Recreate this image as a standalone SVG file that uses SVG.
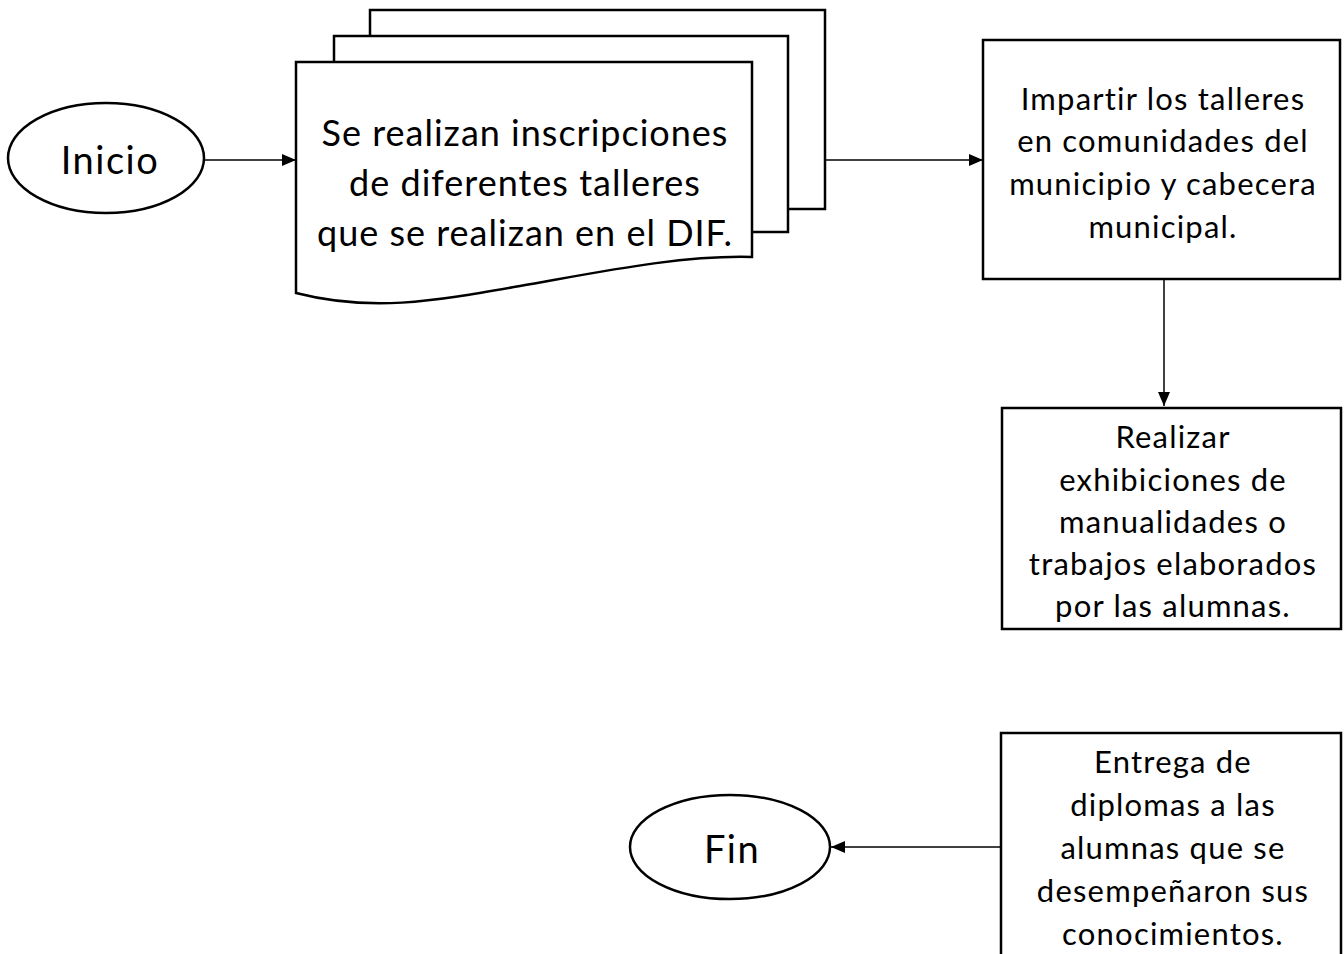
<svg xmlns="http://www.w3.org/2000/svg" width="1344" height="954" viewBox="0 0 1344 954">
<style>
.shape{fill:#fff;stroke:#000;stroke-width:2.5}
.sheet{fill:none;stroke:#000;stroke-width:2.5}
.conn{fill:none;stroke:#000;stroke-width:1.5}
.t{font-family:Lato,"Open Sans","Liberation Sans",sans-serif;fill:#000;text-anchor:middle;dominant-baseline:central}
.big{font-size:36px;letter-spacing:1px}
.end{font-size:38px;letter-spacing:1.5px}
.mid{font-size:31px;letter-spacing:1.2px}
</style>
<defs>
<marker id="arr" viewBox="0 0 14 12" refX="14" refY="6" markerWidth="14" markerHeight="12" markerUnits="userSpaceOnUse" orient="auto">
<path d="M0,0 L14,6 L0,12 z" fill="#000"/>
</marker>
</defs>
<g id="connectors">
<line class="conn" x1="205" y1="160" x2="296" y2="160" marker-end="url(#arr)"/>
<line class="conn" x1="825" y1="160" x2="983" y2="160" marker-end="url(#arr)"/>
<line class="conn" x1="1164" y1="280" x2="1164" y2="406" marker-end="url(#arr)"/>
<line class="conn" x1="1001" y1="847" x2="831" y2="847" marker-end="url(#arr)"/>
</g>
<g id="inicio">
<ellipse class="shape" cx="106" cy="158" rx="98" ry="55"/>
<text class="t end" x="110" y="159">Inicio</text>
</g>
<g id="inscripciones">
<path class="sheet" d="M370,36 V10 H825 V209 H788"/>
<path class="sheet" d="M334,62 V36 H788 V232 H752"/>
<path class="shape" d="M296,62 H752 V257 C 680,255 600,272 520,286 C 430,302 370,312 296,293 Z"/>
<text class="t big" x="525" y="132">Se realizan inscripciones</text>
<text class="t big" x="525" y="182">de diferentes talleres</text>
<text class="t big" x="525" y="232">que se realizan en el DIF.</text>
</g>
<g id="impartir">
<rect class="shape" x="983" y="40" width="357" height="239"/>
<text class="t mid" x="1163" y="98">Impartir los talleres</text>
<text class="t mid" x="1163" y="140">en comunidades del</text>
<text class="t mid" x="1163" y="183">municipio y cabecera</text>
<text class="t mid" x="1163" y="226">municipal.</text>
</g>
<g id="exhibiciones">
<rect class="shape" x="1002" y="408" width="339" height="221"/>
<text class="t mid" x="1173" y="436">Realizar</text>
<text class="t mid" x="1173" y="479">exhibiciones de</text>
<text class="t mid" x="1173" y="521">manualidades o</text>
<text class="t mid" x="1173" y="563">trabajos elaborados</text>
<text class="t mid" x="1173" y="605">por las alumnas.</text>
</g>
<g id="entrega">
<path class="shape" d="M1001,955 V733 H1341 V955"/>
<text class="t mid" x="1173" y="761">Entrega de</text>
<text class="t mid" x="1173" y="804">diplomas a las</text>
<text class="t mid" x="1173" y="847">alumnas que se</text>
<text class="t mid" x="1173" y="890">desempeñaron sus</text>
<text class="t mid" x="1173" y="933">conocimientos.</text>
</g>
<g id="fin">
<ellipse class="shape" cx="730" cy="847" rx="100" ry="52"/>
<text class="t end" x="732" y="848">Fin</text>
</g>
</svg>
